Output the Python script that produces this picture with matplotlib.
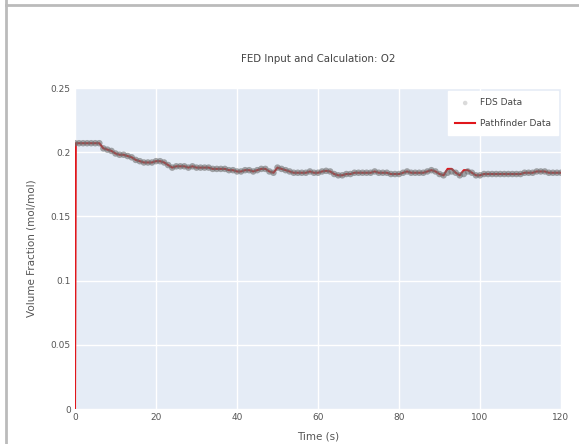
import matplotlib
matplotlib.use("Agg")
import matplotlib.pyplot as plt
from matplotlib.lines import Line2D

# FDS data, one sample per second from t=0 to t=120
fds_time = list(range(0, 121))
fds_o2 = [
    0.207,
    0.207, 0.207, 0.207, 0.207, 0.207, 0.207, 0.203, 0.202, 0.201, 0.199,
    0.198, 0.198, 0.197, 0.196, 0.194, 0.193, 0.192, 0.192, 0.192, 0.193,
    0.193, 0.192, 0.190, 0.188, 0.189, 0.189, 0.189, 0.188, 0.189, 0.188,
    0.188, 0.188, 0.188, 0.187, 0.187, 0.187, 0.187, 0.186, 0.186, 0.185,
    0.185, 0.186, 0.186, 0.185, 0.186, 0.187, 0.187, 0.185, 0.184, 0.188,
    0.187, 0.186, 0.185, 0.184, 0.184, 0.184, 0.184, 0.185, 0.184, 0.184,
    0.185, 0.1855, 0.185, 0.183, 0.182, 0.182, 0.183, 0.183, 0.184, 0.184,
    0.184, 0.184, 0.184, 0.185, 0.184, 0.184, 0.184, 0.183, 0.183, 0.183,
    0.184, 0.185, 0.184, 0.184, 0.184, 0.184, 0.185, 0.186, 0.185, 0.183,
    0.182, 0.184, 0.185, 0.184, 0.182, 0.183, 0.185, 0.184, 0.182, 0.182,
    0.183, 0.183, 0.183, 0.183, 0.183, 0.183, 0.183, 0.183, 0.183, 0.183,
    0.184, 0.184, 0.184, 0.185, 0.185, 0.185, 0.184, 0.184, 0.184, 0.184,
]

# Pathfinder data: rises from 0 at the start, otherwise follows FDS
# except a few seconds around t=92..97
pf_start_time = [0, 0.2]
pf_start_o2 = [0.0, 0.207]
pf_time = pf_start_time + fds_time[1:]
pf_o2 = pf_start_o2 + fds_o2[1:]
pf_diff_time = [92, 93, 96, 97]
pf_diff_o2 = [0.187, 0.187, 0.186, 0.186]
for t, v in zip(pf_diff_time, pf_diff_o2):
    pf_o2[pf_time.index(t)] = v

x_ticks = [0, 20, 40, 60, 80, 100, 120]
y_ticks = [0, 0.05, 0.1, 0.15, 0.2, 0.25]
y_labels = ["0", "0.05", "0.1", "0.15", "0.2", "0.25"]

plt.rcParams['font.family'] = ['DejaVu Sans']

fig = plt.figure(figsize=(5.79, 4.44), dpi=100)
ax = fig.add_axes([75 / 579, 1 - 409 / 444, 486 / 579, 321 / 444])
ax.set_facecolor("#E5ECF6")

ax.plot(pf_time, pf_o2, color="#e0161b", lw=1.5, zorder=2, label="Pathfinder Data")
ax.scatter(fds_time, fds_o2, s=22, color="#6e6e6e", alpha=0.6, edgecolors="none",
           zorder=3, label="FDS Data")

ax.set_xlim(0, 120)
ax.set_ylim(0, 0.25)
ax.set_xticks(x_ticks)
ax.set_yticks(y_ticks)
ax.set_yticklabels(y_labels)
ax.grid(color="white", lw=1)
ax.set_axisbelow(True)
for s in ax.spines.values():
    s.set_visible(False)
ax.tick_params(length=0, labelsize=6.5, colors="#555555", pad=3)

ax.set_xlabel("Time (s)", fontsize=7.5, color="#555555", labelpad=7)
ax.set_ylabel("Volume Fraction (mol/mol)", fontsize=7.5, color="#555555", labelpad=10)
ax.set_title("FED Input and Calculation: O2", fontsize=7.4, color="#444444", pad=19)

handles, labels = ax.get_legend_handles_labels()
leg = ax.legend(handles[::-1], labels[::-1], loc="upper right", fontsize=6.5,
                frameon=True, fancybox=False, framealpha=1, edgecolor="white",
                borderaxespad=0.35, handlelength=2.2, labelspacing=1.3,
                borderpad=0.8, handletextpad=0.5, markerscale=0.7)
for t in leg.get_texts():
    t.set_color("#444444")
leg.legend_handles[0].set_alpha(0.25)

# screenshot frame
fig.add_artist(Line2D([6 / 579, 6 / 579], [0, 1], color="#bbbbbb", lw=2))
fig.add_artist(Line2D([6 / 579, 1], [1 - 5 / 444, 1 - 5 / 444], color="#bbbbbb", lw=2))

fig.savefig("out.png", dpi=100)
